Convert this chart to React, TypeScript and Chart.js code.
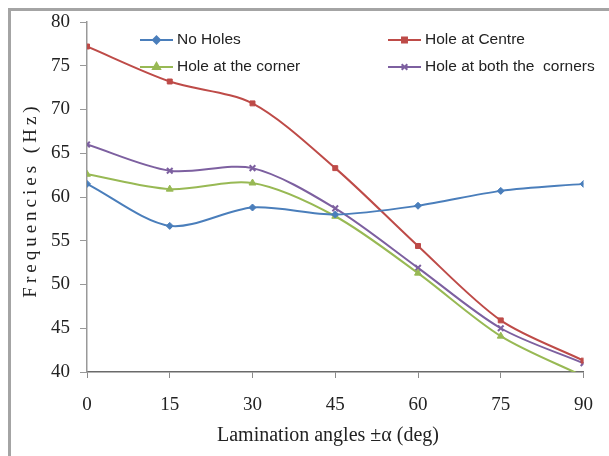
import React, { useEffect, useRef } from 'react';
import { Chart, registerables } from 'chart.js';
import { drawPoint } from 'chart.js/helpers';

Chart.register(...registerables);

const angles = [0, 15, 30, 45, 60, 75, 90];
const noHoles = [61.5, 56.7, 58.8, 58.0, 59.0, 60.7, 61.5];
const holeCentre = [77.2, 73.2, 70.7, 63.3, 54.4, 45.9, 41.3];
const holeCorner = [62.6, 60.9, 61.6, 57.8, 51.3, 44.1, 39.5];
const holeBoth = [66.0, 63.0, 63.3, 58.7, 51.9, 45.0, 41.0];
const seriesNames = ['No Holes', 'Hole at Centre', 'Hole at the corner', 'Hole at both the  corners'];
const yMin = 40;
const yMax = 80;
const yStep = 5;
const xMin = 0;
const xMax = 90;
const xStep = 15;
const xTitle = 'Lamination angles \u00b1\u03b1 (deg)';
const yTitle = 'Frequencies (Hz)';

const colors = ['#4a7ebb', '#be4b48', '#98b954', '#7d60a0'];
const pointStyles = ['rectRot', 'rect', 'triangle', 'crossRot'];
const pointRadii = [3.5, 3.5, 4, 4];

const seriesValues = [noHoles, holeCentre, holeCorner, holeBoth];

const legendPos = [
  { x: 140, y: 40 },
  { x: 388, y: 40 },
  { x: 140, y: 67 },
  { x: 388, y: 67 },
];

const extrasPlugin = {
  id: 'extras',
  afterDraw(chart: any) {
    const ctx = chart.ctx as CanvasRenderingContext2D;
    chart.data.datasets.forEach((ds: any, i: number) => {
      const p = legendPos[i];
      ctx.save();
      ctx.strokeStyle = ds.borderColor;
      ctx.lineWidth = 2;
      ctx.beginPath();
      ctx.moveTo(p.x, p.y);
      ctx.lineTo(p.x + 33, p.y);
      ctx.stroke();
      ctx.fillStyle = ds.borderColor;
      drawPoint(ctx, {
        pointStyle: ds.pointStyle,
        radius: ds.pointRadius,
        borderWidth: ds.pointBorderWidth,
        rotation: 0,
      } as any, p.x + 16.5, p.y);
      ctx.fillStyle = '#222';
      ctx.font = '15.5px "Liberation Sans"';
      ctx.textAlign = 'left';
      ctx.textBaseline = 'middle';
      ctx.fillText(ds.label, p.x + 37, p.y);
      ctx.restore();
    });
    ctx.save();
    ctx.font = '19px "Liberation Serif"';
    ctx.fillStyle = '#222';
    ctx.textAlign = 'center';
    ctx.textBaseline = 'middle';
    ctx.translate(31, 200);
    ctx.rotate(-Math.PI / 2);
    (ctx as any).letterSpacing = '4px';
    ctx.fillText(yTitle, 0, 0);
    ctx.restore();
    ctx.save();
    ctx.font = '20px "Liberation Serif"';
    ctx.fillStyle = '#222';
    ctx.textAlign = 'center';
    ctx.textBaseline = 'middle';
    ctx.fillText(xTitle, 328, 436);
    ctx.restore();
  },
};

export default function App() {
  const ref = useRef<HTMLCanvasElement | null>(null);

  useEffect(() => {
    if (!ref.current) return;
    const datasets = seriesValues.map((vals, i) => ({
      label: seriesNames[i],
      data: angles.map((a, j) => ({ x: a, y: vals[j] })),
      borderColor: colors[i],
      backgroundColor: colors[i],
      pointBackgroundColor: colors[i],
      pointBorderColor: colors[i],
      borderWidth: 2,
      pointStyle: pointStyles[i],
      pointRadius: pointRadii[i],
      pointBorderWidth: i === 3 ? 2 : 1,
      tension: 0.3,
      fill: false,
    }));
    const chart = new Chart(ref.current, {
      type: 'line',
      data: { datasets },
      plugins: [extrasPlugin],
      options: {
        animation: false,
        responsive: true,
        maintainAspectRatio: false,
        layout: { padding: { top: 22, left: 0, right: 18, bottom: 0 } },
        plugins: { legend: { display: false }, tooltip: { enabled: false } },
        scales: {
          x: {
            type: 'linear',
            min: xMin,
            max: xMax,
            afterFit: (s: any) => { s.height = 84; },
            ticks: {
              stepSize: xStep,
              padding: 16,
              color: '#222',
              font: { family: 'Liberation Serif', size: 19 },
            },
            grid: { drawOnChartArea: false, tickLength: 6, color: '#8a8a8a' },
            border: { color: '#6a6a6a', width: 1.5 },
          },
          y: {
            min: yMin,
            max: yMax,
            afterFit: (s: any) => { s.width = 87; },
            ticks: {
              stepSize: yStep,
              padding: 10,
              color: '#222',
              font: { family: 'Liberation Serif', size: 19 },
            },
            grid: { drawOnChartArea: false, tickLength: 7, color: '#999' },
            border: { color: '#999', width: 1.5 },
          },
        },
      },
    });
    return () => chart.destroy();
  }, []);

  return (
    <>
      <div
        style={{
          position: 'absolute',
          left: 8,
          top: 8,
          width: 601,
          height: 448,
          boxSizing: 'border-box',
          borderLeft: '3px solid #a4a4a4',
          borderTop: '3px solid #a4a4a4',
        }}
      />
      <div style={{ position: 'absolute', left: 0, top: 0, width: 609, height: 456 }}>
        <canvas ref={ref} />
      </div>
    </>
  );
}
